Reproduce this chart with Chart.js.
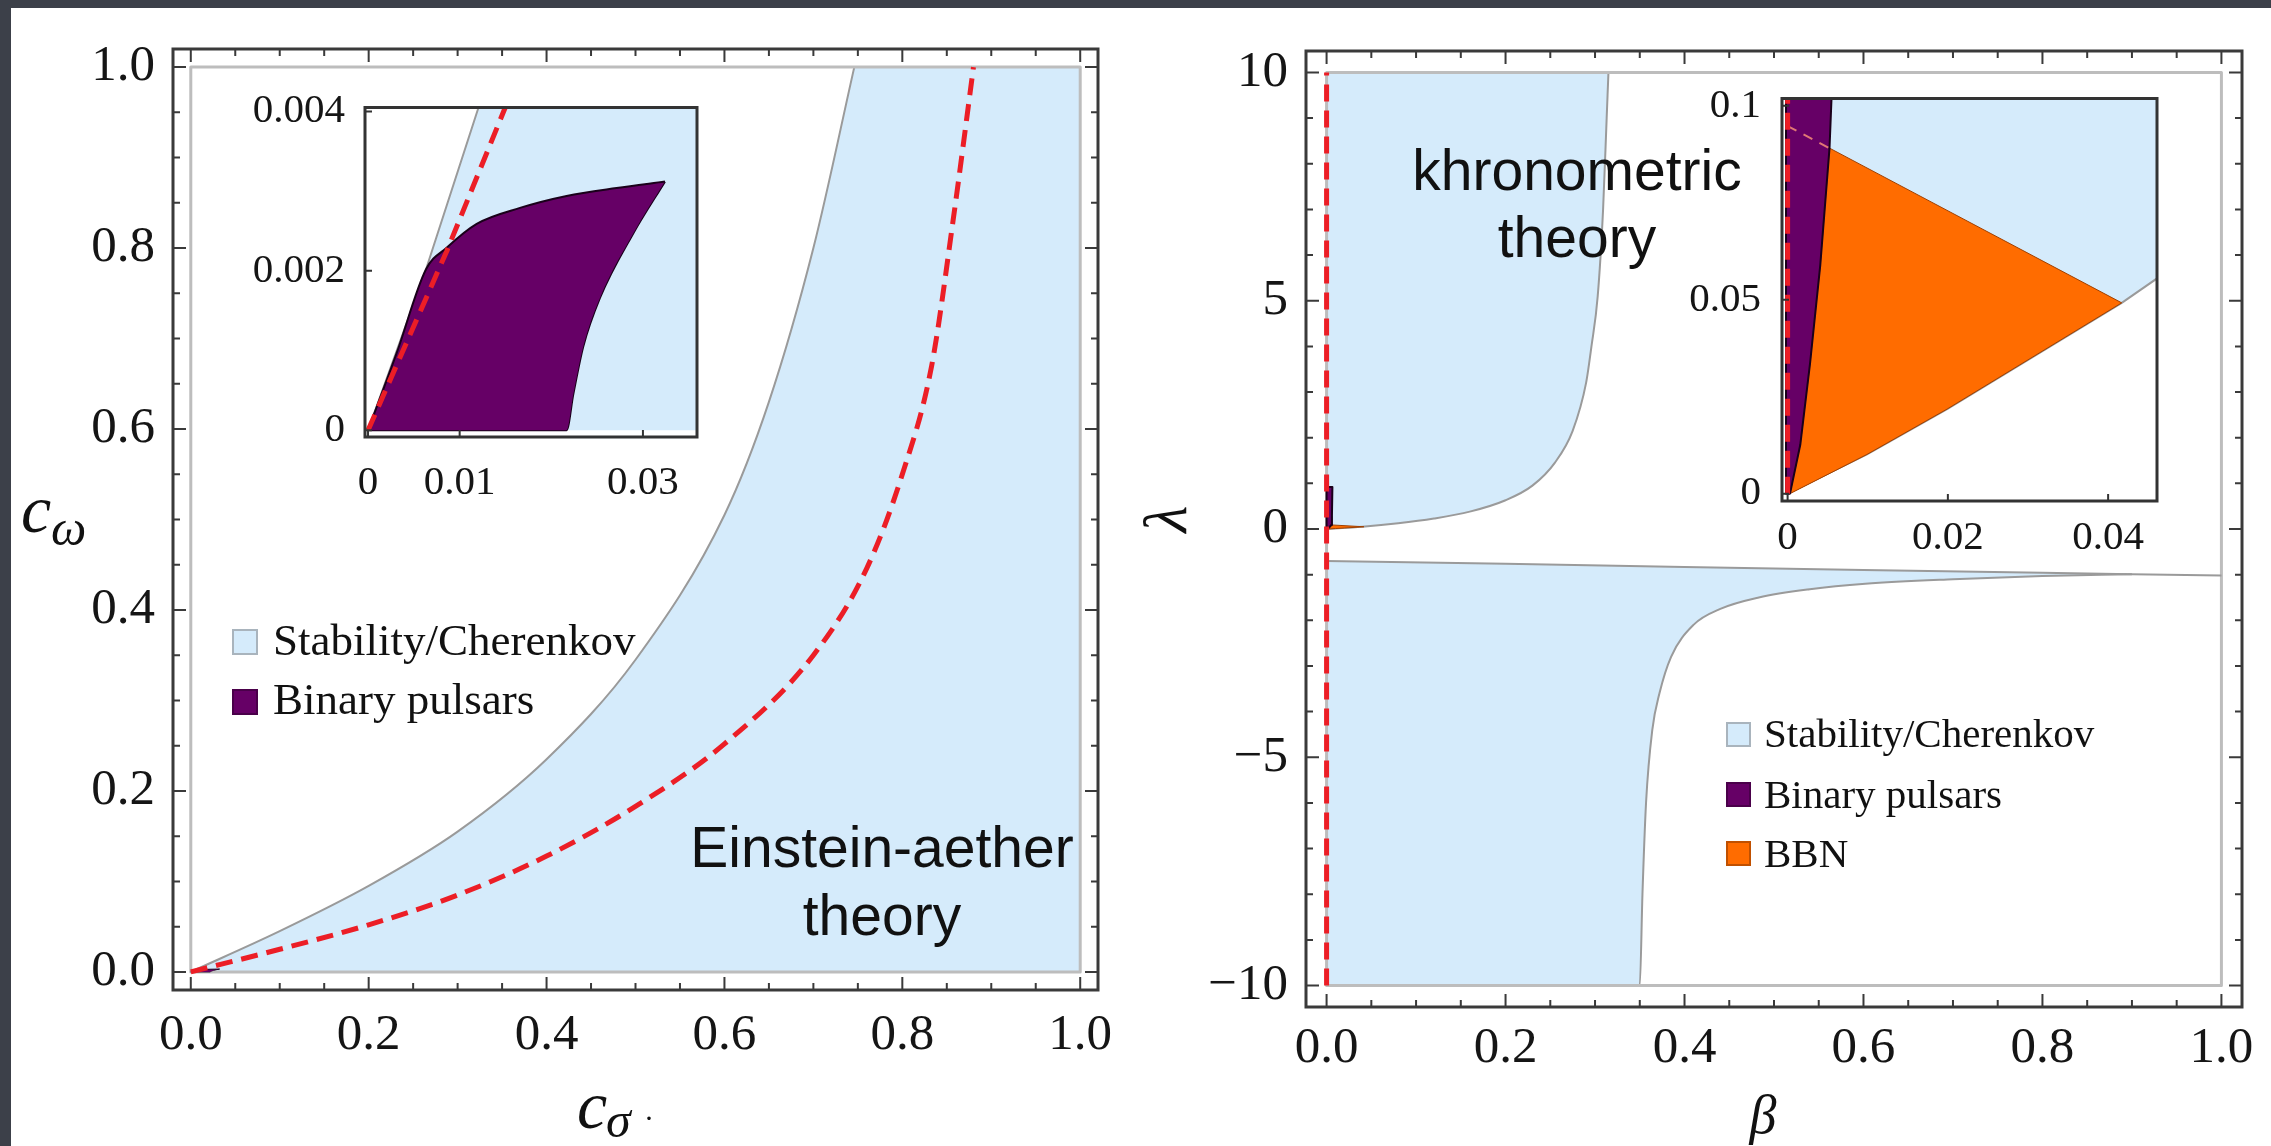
<!DOCTYPE html>
<html>
<head>
<meta charset="utf-8">
<title>Einstein-aether and khronometric constraints</title>
<script src="https://cdn.jsdelivr.net/npm/chart.js@4.4.1/dist/chart.umd.min.js"></script>
<style>
  html, body { margin: 0; padding: 0; }
  body { width: 2271px; height: 1146px; position: relative; overflow: hidden; background: #3c4049; }
  #paper { position: absolute; left: 11px; top: 8px; right: 0; bottom: 0; background: #fff; }
  canvas { position: absolute; }
  .t { position: absolute; white-space: nowrap; color: #111; line-height: 1; }
  .sw { position: absolute; box-sizing: border-box; }
</style>
</head>
<body>
<div id="paper"></div>
<canvas id="mainL"></canvas>
<canvas id="mainR"></canvas>
<canvas id="insetL"></canvas>
<canvas id="insetR"></canvas>
<div id="overlay"></div>
<script>
// ---------- data: left panel (c_sigma, c_omega) ----------
const aeTicks = [0, 0.2, 0.4, 0.6, 0.8, 1.0];
const aeTickLabels = ['0.0', '0.2', '0.4', '0.6', '0.8', '1.0'];
const aeBounds = [[0, 0], [1, 0], [1, 1], [0, 1], [0, 0]];
// left edge of the stability/Cherenkov region
const aeCherenkov = [[0, 0], [0.1, 0.045], [0.2, 0.095], [0.3, 0.155], [0.4, 0.235], [0.5, 0.345],
  [0.6, 0.505], [0.65, 0.63], [0.7, 0.8], [0.746, 1.0]];
// rest of the region, up to c_sigma = 1
const aeStableRest = [[0.745, 0], [1, 0], [1, 1], [0.745, 1], [0.745, 0]];
const aeDashed = [[0, 0], [0.1, 0.025], [0.2, 0.052], [0.3, 0.085], [0.4, 0.128], [0.5, 0.183],
  [0.6, 0.252], [0.7, 0.35], [0.76, 0.446], [0.8, 0.55], [0.833, 0.67], [0.857, 0.83], [0.88, 1.0]];
// binary pulsar region: upper and lower edges
const aePulsarTop = [[0, 0], [0.00313, 0.00097], [0.00633, 0.00202], [0.00858, 0.00229], [0.01186, 0.00259],
  [0.01658, 0.00279], [0.02167, 0.00294], [0.02713, 0.00304], [0.0324, 0.00312]];
const aePulsarLow = [[0, 0], [0.02167, 0], [0.0224, 0.00045], [0.02349, 0.00105], [0.02531, 0.00166],
  [0.02894, 0.00247], [0.0324, 0.00312]];

// left inset
const aeInXTicks = [0, 0.01, 0.03];
const aeInXLabels = ['0', '0.01', '0.03'];
const aeInYTicks = [0, 0.002, 0.004];
const aeInYLabels = ['0', '0.002', '0.004'];
const aeInCherenkov = [[0, 0], [0.00633, 0.00202], [0.01203, 0.00404], [0.0125, 0.0042]];
const aeInCorner = [[0.037, 0.0042], [0.037, 0], [0, 0]];
const aeInDashed = [[0, 0], [0.0086, 0.00225], [0.01494, 0.00404], [0.0152, 0.0041]];

// ---------- data: right panel (beta, lambda) ----------
const khYTicks = [-10, -5, 0, 5, 10];
const khYLabels = ['\u221210', '\u22125', '0', '5', '10'];
const khBounds = [[0, -10], [1, -10], [1, 10], [0, 10], [0, -10]];
const khUpperEdge = [[0, 0], [0.04, 0.05], [0.08, 0.125], [0.12, 0.23], [0.16, 0.38], [0.2, 0.63],
  [0.23, 0.95], [0.255, 1.45], [0.275, 2.15], [0.29, 3.2], [0.296, 4.0], [0.303, 5.1], [0.309, 7.0],
  [0.313, 9.0], [0.315, 10]];
const khLowerTop = [[0, -0.7], [0.2, -0.76], [0.4, -0.83], [0.6, -0.9], [0.8, -0.96], [0.9, -0.99], [1, -1.02]];
const khLowerEdge = [[0, -10], [0.35, -10], [0.353, -8], [0.357, -6], [0.364, -4.4], [0.372, -3.6],
  [0.385, -2.8], [0.41, -2.1], [0.44, -1.75], [0.483, -1.5], [0.54, -1.32], [0.602, -1.2], [0.7, -1.1],
  [0.8, -1.03], [0.9, -0.99]];
const khPulsars = [[0, 0], [0.0016, 0.013], [0.0028, 0.034], [0.0041, 0.059], [0.0052, 0.089],
  [0.006, 0.3], [0.0065, 0.92], [0, 0.92], [0, 0]];
const khBBN = [[0.0003, 0], [0.0099, 0.0101], [0.0199, 0.0218], [0.0417, 0.0492], [0.00523, 0.0891],
  [0.00407, 0.0588], [0.0028, 0.0336], [0.00158, 0.0126], [0.0003, 0]];
const khDashed = [[0, -10], [0, 10]];

// right inset
const khInXTicks = [0, 0.02, 0.04];
const khInXLabels = ['0', '0.02', '0.04'];
const khInYTicks = [0, 0.05, 0.1];
const khInYLabels = ['0', '0.05', '0.1'];
const khInEdge = [[0, 0], [0.0099, 0.0101], [0.0199, 0.0218], [0.0417, 0.0492], [0.0461, 0.0555], [0.047, 0.0566]];
const khInCorner = [[0.047, 0.103], [0, 0.103], [0, 0]];
const khInPulsars = [[-0.0002, 0], [0.0003, 0], [0.00158, 0.0126], [0.0028, 0.0336], [0.00407, 0.0588],
  [0.00523, 0.0891], [0.0055, 0.103], [-0.0002, 0.103], [-0.0002, 0]];
const khInBBNTail = [[0, 0.0948], [0.0052, 0.0891]];
const khInDashed = [[0, 0], [0, 0.103]];

// ---------- colours ----------
const BLUE = 'rgb(213, 235, 251)';
const PURPLE = 'rgb(102, 0, 102)';
const ORANGE = 'rgb(255, 108, 0)';
const RED = 'rgb(236, 30, 38)';
const EDGE = '#9a9a9a';
const BOUND = '#bdbdbd';
const SERIF = "'Liberation Serif', 'Times New Roman', serif";
const SANS = "'Liberation Sans', Arial, sans-serif";

const pts = a => a.map(p => ({x: p[0], y: p[1]}));
const base = (data, color, w) => ({data: pts(data), showLine: true, borderColor: color, borderWidth: w,
  pointRadius: 0, clip: 0, fill: false, borderJoinStyle: 'round'});
const shape = (data, fill, edge, w) => Object.assign(base(data, edge, w), {fill: 'shape', backgroundColor: fill});
const line = (data, color, w, dash) => Object.assign(base(data, color, w), {borderDash: dash || []});
const smooth = d => Object.assign(d, {cubicInterpolationMode: 'monotone'});
const steps = (lo, hi, step, skip) => {
  const out = [];
  for (let v = lo; v <= hi + 1e-9; v += step) {
    const r = Math.round(v * 1e6) / 1e6;
    if (!skip.some(s => Math.abs(s - r) < 1e-9)) out.push(r);
  }
  return out;
};

// frame + inward ticks on the chart area
const frameTicks = cfg => ({
  id: 'frameTicks',
  beforeDatasetsDraw(chart) {
    if (!cfg.bg) return;
    const a = chart.chartArea, ctx = chart.ctx;
    ctx.save();
    ctx.fillStyle = cfg.bg;
    ctx.fillRect(a.left, a.top, a.right - a.left, a.bottom - a.top);
    ctx.restore();
  },
  afterDatasetsDraw(chart) {
    const {ctx, chartArea: a} = chart;
    const sx = chart.scales.x, sy = chart.scales.y;
    ctx.save();
    ctx.strokeStyle = cfg.color;
    ctx.lineWidth = cfg.tickWidth;
    ctx.beginPath();
    const xm = (vals, len) => vals.forEach(v => {
      const p = sx.getPixelForValue(v);
      ctx.moveTo(p, a.bottom); ctx.lineTo(p, a.bottom - len);
      if (cfg.mirror) { ctx.moveTo(p, a.top); ctx.lineTo(p, a.top + len); }
    });
    const ym = (vals, len) => vals.forEach(v => {
      const p = sy.getPixelForValue(v);
      ctx.moveTo(a.left, p); ctx.lineTo(a.left + len, p);
      if (cfg.mirror) { ctx.moveTo(a.right, p); ctx.lineTo(a.right - len, p); }
    });
    xm(cfg.xMajor, cfg.major); xm(cfg.xMinor || [], cfg.minor);
    ym(cfg.yMajor, cfg.major); ym(cfg.yMinor || [], cfg.minor);
    ctx.stroke();
    ctx.lineWidth = cfg.frameWidth;
    ctx.strokeRect(a.left, a.top, a.right - a.left, a.bottom - a.top);
    ctx.restore();
  }
});

function makeChart(id, c) {
  const el = document.getElementById(id);
  const b = c.box, f = c.frame;
  el.style.left = b.left + 'px';
  el.style.top = b.top + 'px';
  el.width = b.width;
  el.height = b.height;
  const font = {family: SERIF, size: c.fontSize, lineHeight: 1};
  return new Chart(el, {
    type: 'scatter',
    data: {datasets: c.datasets},
    options: {
      responsive: false,
      animation: false,
      devicePixelRatio: 1,
      layout: {padding: {top: f.top - b.top, right: b.left + b.width - f.right, left: 0, bottom: 0}},
      plugins: {legend: {display: false}, tooltip: {enabled: false}},
      scales: {
        x: {
          type: 'linear', min: c.xRange[0], max: c.xRange[1],
          afterFit: s => { s.height = b.top + b.height - f.bottom; },
          afterBuildTicks: s => { s.ticks = c.xTicks.map(v => ({value: v})); },
          ticks: {callback: (v, i) => c.xLabels[i], font, color: '#151515', padding: c.xPad,
                  maxRotation: 0, autoSkip: false},
          grid: {display: false}, border: {display: false}
        },
        y: {
          type: 'linear', min: c.yRange[0], max: c.yRange[1],
          afterFit: s => { s.width = f.left - b.left; },
          afterBuildTicks: s => { s.ticks = c.yTicks.map(v => ({value: v})); },
          ticks: {callback: (v, i) => c.yLabels[i], font, color: '#151515', padding: c.yPad, autoSkip: false},
          grid: {display: false}, border: {display: false}
        }
      }
    },
    plugins: [frameTicks(c.ticks)]
  });
}

// ---------- left panel ----------
// first dataset is drawn on top
makeChart('mainL', {
  box: {left: 11, top: 8, width: 1139, height: 1138},
  frame: {left: 173, top: 49, right: 1098, bottom: 990},
  xRange: [-0.02, 1.02], yRange: [-0.02, 1.02],
  xTicks: aeTicks, xLabels: aeTickLabels, yTicks: aeTicks, yLabels: aeTickLabels,
  fontSize: 51, xPad: 12, yPad: 10,
  ticks: {xMajor: aeTicks, xMinor: steps(0, 1, 0.05, aeTicks), yMajor: aeTicks, yMinor: steps(0, 1, 0.05, aeTicks),
          major: 13, minor: 7, mirror: true, tickWidth: 2, frameWidth: 3, color: '#3a3a3a'},
  datasets: [
    smooth(line(aeDashed, RED, 5, [17, 9])),
    smooth(Object.assign(line(aePulsarTop, '#1a001a', 1), {fill: '+1', backgroundColor: PURPLE})),
    smooth(line(aePulsarLow, '#1a001a', 1)),
    line(aeBounds, BOUND, 3),
    smooth(Object.assign(line(aeCherenkov, EDGE, 2), {fill: {value: 0}, backgroundColor: BLUE})),
    shape(aeStableRest, BLUE, BLUE, 0)
  ]
});

makeChart('insetL', {
  box: {left: 230, top: 75, width: 490, height: 440},
  frame: {left: 365, top: 97, right: 697, bottom: 437},
  xRange: [-0.00033, 0.0359], yRange: [-0.000085, 0.00405],
  xTicks: aeInXTicks, xLabels: aeInXLabels, yTicks: aeInYTicks, yLabels: aeInYLabels,
  fontSize: 41, xPad: 18, yPad: 12,
  ticks: {xMajor: aeInXTicks, yMajor: aeInYTicks, major: 7, minor: 4, mirror: false,
          tickWidth: 2, frameWidth: 3, color: '#333', bg: '#fff'},
  datasets: [
    line(aeInDashed, RED, 5, [17, 9]),
    smooth(Object.assign(line(aePulsarTop, '#1a001a', 2), {fill: '+1', backgroundColor: PURPLE})),
    smooth(line(aePulsarLow, '#1a001a', 2)),
    line(aeInCherenkov, EDGE, 2),
    shape(aeInCherenkov.concat(aeInCorner), BLUE, BLUE, 0)
  ]
});

// ---------- right panel ----------
makeChart('mainR', {
  box: {left: 1150, top: 8, width: 1121, height: 1138},
  frame: {left: 1306, top: 51, right: 2242, bottom: 1007},
  xRange: [-0.023, 1.023], yRange: [-10.47, 10.47],
  xTicks: aeTicks, xLabels: aeTickLabels, yTicks: khYTicks, yLabels: khYLabels,
  fontSize: 51, xPad: 8, yPad: 10,
  ticks: {xMajor: aeTicks, xMinor: steps(0, 1, 0.05, aeTicks), yMajor: khYTicks, yMinor: steps(-10, 10, 1, khYTicks),
          major: 13, minor: 7, mirror: true, tickWidth: 2, frameWidth: 3, color: '#3a3a3a'},
  datasets: [
    line(khDashed, RED, 5, [17, 9]),
    shape(khPulsars, PURPLE, '#1a001a', 2),
    shape(khBBN, ORANGE, '#a04000', 1),
    line(khLowerTop, EDGE, 2),
    line(khBounds, BOUND, 3),
    smooth(Object.assign(line(khUpperEdge, EDGE, 2), {fill: {value: 10}, backgroundColor: BLUE})),
    smooth(line(khLowerEdge, EDGE, 2)),
    Object.assign(line(khLowerTop.slice(0, 6), BLUE, 0), {fill: '-1', backgroundColor: BLUE})
  ]
});

makeChart('insetR', {
  box: {left: 1650, top: 65, width: 530, height: 500},
  frame: {left: 1782, top: 89, right: 2157, bottom: 501},
  xRange: [-0.0007, 0.0461], yRange: [-0.0019, 0.1019],
  xTicks: khInXTicks, xLabels: khInXLabels, yTicks: khInYTicks, yLabels: khInYLabels,
  fontSize: 41, xPad: 9, yPad: 13,
  ticks: {xMajor: khInXTicks, yMajor: khInYTicks, major: 7, minor: 4, mirror: false,
          tickWidth: 2, frameWidth: 3, color: '#333', bg: '#fff'},
  datasets: [
    line(khInDashed, RED, 5, [17, 9]),
    line(khInBBNTail, 'rgba(255, 150, 120, 0.8)', 2, [10, 8]),
    shape(khInPulsars, PURPLE, '#1a001a', 2),
    shape(khBBN, ORANGE, '#a04000', 1),
    line(khInEdge, EDGE, 2),
    shape(khInEdge.concat(khInCorner), BLUE, BLUE, 0)
  ]
});

// ---------- text: labels, annotations, legends ----------
const overlay = document.getElementById('overlay');
function put(text, x, baseline, size, fam, opt) {
  opt = opt || {};
  const d = document.createElement('div');
  d.className = 't';
  d.textContent = text;
  const k = fam === SANS ? 0.8465 : 0.8375;
  d.style.fontFamily = fam;
  d.style.fontSize = size + 'px';
  if (opt.italic) d.style.fontStyle = 'italic';
  d.style.top = (baseline - k * size) + 'px';
  if (opt.center) {
    d.style.left = (x - 400) + 'px';
    d.style.width = '800px';
    d.style.textAlign = 'center';
  } else {
    d.style.left = x + 'px';
  }
  if (opt.rotate) d.style.transform = 'rotate(' + opt.rotate + 'deg)';
  overlay.appendChild(d);
  return d;
}
function swatch(x, y, s, fill, edge) {
  const d = document.createElement('div');
  d.className = 'sw';
  Object.assign(d.style, {left: x + 'px', top: y + 'px', width: s + 'px', height: s + 'px',
    background: fill, border: '2px solid ' + edge});
  overlay.appendChild(d);
}

// axis titles
put('c', 21, 532, 68, SERIF, {italic: true});
put('\u03c9', 51, 545, 50, SERIF, {italic: true});
put('c', 577, 1128, 68, SERIF, {italic: true});
put('\u03c3', 606, 1137, 50, SERIF, {italic: true});
put('\u00b7', 644, 1128, 30, SERIF);
put('\u03bb', 1165, 540, 62, SERIF, {italic: true, center: true, rotate: -90});
put('\u03b2', 1763, 1133, 54, SERIF, {italic: true, center: true});

// annotations
put('Einstein-aether', 882, 867, 57, SANS, {center: true});
put('theory', 882, 935, 57, SANS, {center: true});
put('khronometric', 1577, 190, 57, SANS, {center: true});
put('theory', 1577, 257, 57, SANS, {center: true});

// legends
swatch(232, 629, 26, BLUE, '#a9b4bd');
swatch(232, 689, 26, PURPLE, '#4a004a');
put('Stability/Cherenkov', 273, 656, 45, SERIF);
put('Binary pulsars', 273, 715, 45, SERIF);

swatch(1726, 722, 25, BLUE, '#a9b4bd');
swatch(1726, 782, 25, PURPLE, '#4a004a');
swatch(1726, 841, 25, ORANGE, '#c05000');
put('Stability/Cherenkov', 1764, 747, 41, SERIF);
put('Binary pulsars', 1764, 808, 41, SERIF);
put('BBN', 1764, 867, 41, SERIF);
</script>
</body>
</html>
